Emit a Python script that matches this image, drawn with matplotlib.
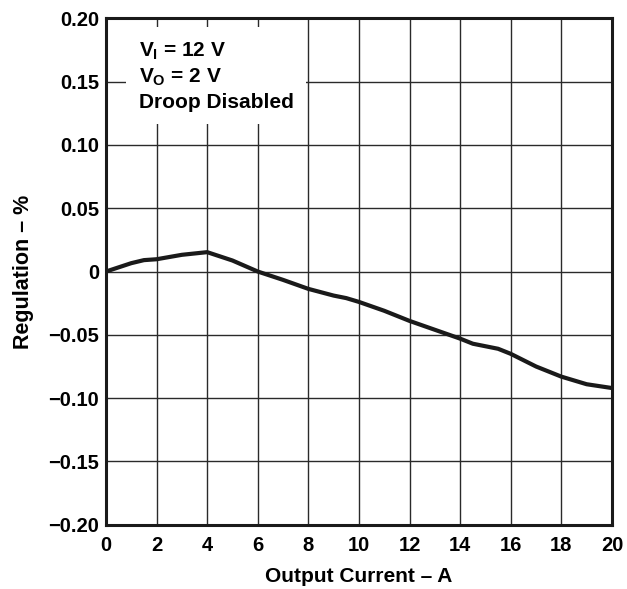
import matplotlib.pyplot as plt

plt.rcParams['font.family'] = ['Liberation Sans', 'DejaVu Sans']
plt.rcParams['font.weight'] = 'bold'
plt.rcParams['mathtext.fontset'] = 'custom'
plt.rcParams['mathtext.rm'] = 'Liberation Sans:bold'
plt.rcParams['mathtext.bf'] = 'Liberation Sans:bold'
plt.rcParams['mathtext.it'] = 'Liberation Sans:bold'

current = [0, 1, 1.5, 2, 3, 4, 5, 6, 7, 8, 9, 9.5, 10, 11, 12, 13, 14, 14.5, 15, 15.5, 16, 17, 18, 19, 20]
regulation = [0.0, 0.0066, 0.009, 0.0097, 0.0132, 0.0153, 0.0087, 0.0, -0.0066, -0.0137, -0.019,
              -0.021, -0.024, -0.031, -0.039, -0.046, -0.053, -0.057, -0.059, -0.061, -0.065,
              -0.075, -0.083, -0.089, -0.092]

xticks = list(range(0, 21, 2))
yticks = [0.20, 0.15, 0.10, 0.05, 0, -0.05, -0.10, -0.15, -0.20]
ylabels = ['0.20', '0.15', '0.10', '0.05', '0', '\u22120.05', '\u22120.10', '\u22120.15', '\u22120.20']

fig = plt.figure(figsize=(6.27, 5.89), dpi=100)
ax = fig.add_axes([0.169, 0.109, 0.807, 0.860])

ax.plot(current, regulation, color='#1a1a1a', linewidth=3, solid_capstyle='round', zorder=3)

ax.set_xlim(0, 20)
ax.set_ylim(-0.20, 0.20)
ax.set_xticks(xticks)
ax.set_yticks(yticks)
ax.set_yticklabels(ylabels)
ax.tick_params(length=0, labelsize=14.5)
ax.tick_params(axis='x', pad=8)
ax.tick_params(axis='y', pad=5)
ax.grid(True, color='#2a2a2a', linewidth=1)
for s in ax.spines.values():
    s.set_linewidth(2.2)
    s.set_color('#1a1a1a')

ax.set_xlabel('Output Current \u2013 A', fontsize=15, fontweight='bold', labelpad=9)
ax.set_ylabel('Regulation \u2013 %', fontsize=15.5, fontweight='bold', labelpad=10)

ax.text(0.065, 0.955, '$V_I$ = 12 V\n$V_O$ = 2 V\nDroop Disabled', fontsize=15, fontweight='bold',
        va='top', ha='left', linespacing=1.3,
        bbox=dict(facecolor='white', edgecolor='none', pad=9), zorder=4,
        transform=ax.transAxes)

fig.savefig('out.png', dpi=100)
